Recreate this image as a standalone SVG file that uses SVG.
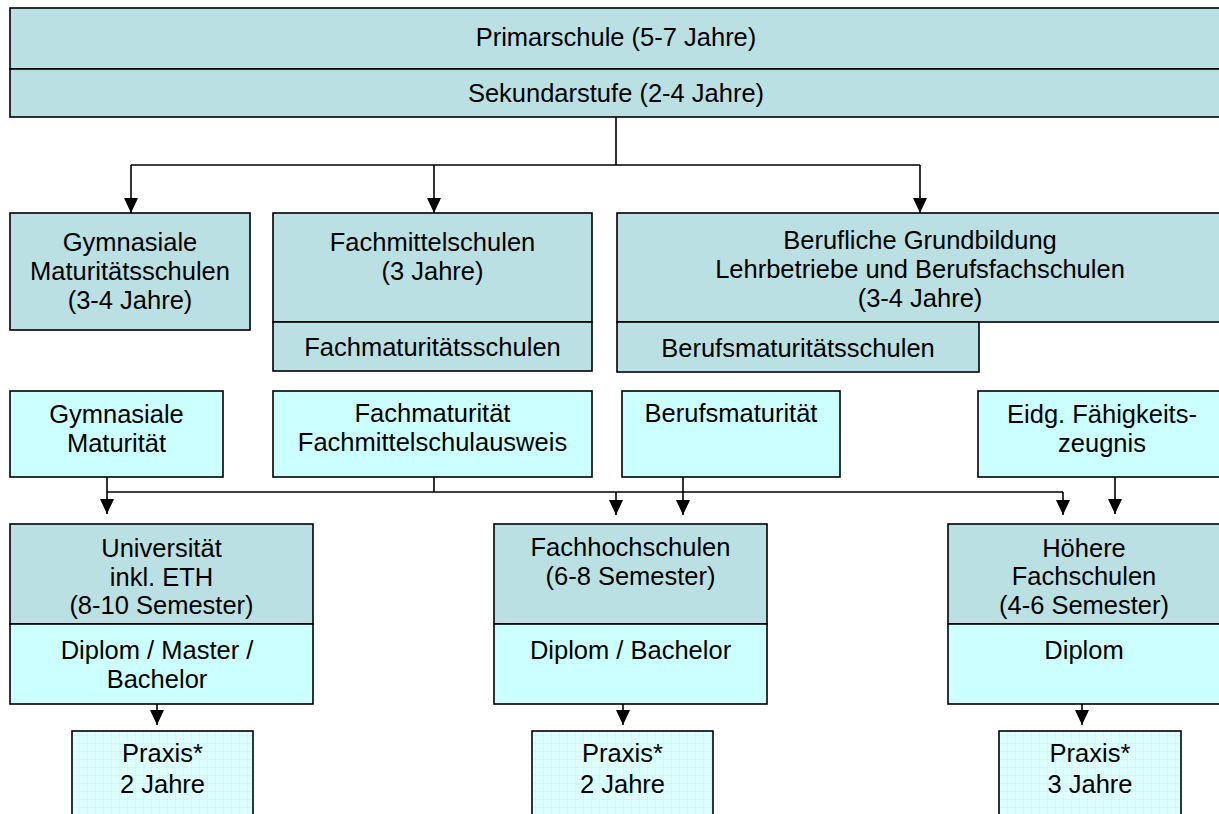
<svg xmlns="http://www.w3.org/2000/svg" width="1219" height="814" viewBox="0 0 1219 814">
<style>
.d{fill:#BBE0E3;stroke:#000;stroke-width:1.6}
.l{fill:#CCFFFF;stroke:#000;stroke-width:1.6}
.p{fill:url(#grid);stroke:#000;stroke-width:1.6}
text{font-family:"Liberation Sans",Arial,sans-serif;font-size:25.5px;fill:#000;text-anchor:middle}
.c{fill:none;stroke:#000;stroke-width:1.6}
</style>
<defs>
<pattern id="grid" width="8" height="8" patternUnits="userSpaceOnUse">
<rect width="8" height="8" fill="#DDFFFF"/>
<path d="M8 0V8M0 8H8" stroke="#C6EEEE" stroke-width="0.8" fill="none"/>
</pattern>
<marker id="ah" markerWidth="15" markerHeight="14" refX="15" refY="7" orient="auto" markerUnits="userSpaceOnUse" viewBox="0 0 15 14">
<path d="M0 0L15 7L0 14Z" fill="#000"/>
</marker>
</defs>
<rect width="1219" height="814" fill="#fff"/>

<g id="primarschule"><rect class="d" x="10" y="8" width="1215" height="61"/><text x="616" y="46">Primarschule (5-7 Jahre)</text></g>
<g id="sekundarstufe"><rect class="d" x="10" y="69" width="1215" height="48"/><text x="616" y="102">Sekundarstufe (2-4 Jahre)</text></g>

<g id="gym-schulen"><rect class="d" x="10" y="213" width="240" height="117"/><text x="130" y="251">Gymnasiale</text><text x="130" y="280">Maturitätsschulen</text><text x="130" y="309">(3-4 Jahre)</text></g>
<g id="fachmittelschulen"><rect class="d" x="273" y="213" width="319" height="109"/><text x="432.5" y="251">Fachmittelschulen</text><text x="432.5" y="280">(3 Jahre)</text></g>
<g id="fachmat-schulen"><rect class="d" x="273" y="322" width="319" height="49"/><text x="432.5" y="356">Fachmaturitätsschulen</text></g>
<g id="berufliche"><rect class="d" x="617" y="213" width="608" height="109"/><text x="920" y="249">Berufliche Grundbildung</text><text x="920" y="278">Lehrbetriebe und Berufsfachschulen</text><text x="920" y="307">(3-4 Jahre)</text></g>
<g id="berufsmat-schulen"><rect class="d" x="617" y="322" width="362" height="50"/><text x="798" y="357">Berufsmaturitätsschulen</text></g>

<g id="gym-maturitaet"><rect class="l" x="10" y="391" width="213" height="86"/><text x="116.5" y="423">Gymnasiale</text><text x="116.5" y="452">Maturität</text></g>
<g id="fachmaturitaet"><rect class="l" x="273" y="391" width="319" height="86"/><text x="432.5" y="422">Fachmaturität</text><text x="432.5" y="451">Fachmittelschulausweis</text></g>
<g id="berufsmaturitaet"><rect class="l" x="622" y="391" width="218" height="86"/><text x="731" y="422">Berufsmaturität</text></g>
<g id="eidg"><rect class="l" x="978" y="391" width="250" height="86"/><text x="1102" y="423">Eidg. Fähigkeits-</text><text x="1102" y="452">zeugnis</text></g>

<g id="universitaet"><rect class="d" x="10" y="524" width="303" height="100"/><text x="161.5" y="557">Universität</text><text x="161.5" y="586">inkl. ETH</text><text x="161.5" y="614">(8-10 Semester)</text></g>
<g id="uni-diplom"><rect class="l" x="10" y="624" width="303" height="80"/><text x="157" y="659">Diplom / Master /</text><text x="157" y="688">Bachelor</text></g>
<g id="fachhochschulen"><rect class="d" x="494" y="524" width="273" height="100"/><text x="630.5" y="556">Fachhochschulen</text><text x="630.5" y="585">(6-8 Semester)</text></g>
<g id="fh-diplom"><rect class="l" x="494" y="624" width="273" height="80"/><text x="630.5" y="659">Diplom / Bachelor</text></g>
<g id="hoehere"><rect class="d" x="948" y="524" width="280" height="100"/><text x="1084" y="557">Höhere</text><text x="1084" y="585">Fachschulen</text><text x="1084" y="614">(4-6 Semester)</text></g>
<g id="hf-diplom"><rect class="l" x="948" y="624" width="280" height="80"/><text x="1084" y="659">Diplom</text></g>

<g id="praxis-uni"><rect class="p" x="72" y="731" width="181" height="100"/><text x="162.5" y="762">Praxis*</text><text x="162.5" y="793">2 Jahre</text></g>
<g id="praxis-fh"><rect class="p" x="532" y="731" width="181" height="100"/><text x="622.5" y="762">Praxis*</text><text x="622.5" y="793">2 Jahre</text></g>
<g id="praxis-hf"><rect class="p" x="999" y="731" width="182" height="100"/><text x="1090" y="762">Praxis*</text><text x="1090" y="793">3 Jahre</text></g>

<g id="connectors">
<path class="c" d="M616 117V165M131 165H920"/>
<path class="c" d="M131 165V213" marker-end="url(#ah)"/>
<path class="c" d="M434 165V213" marker-end="url(#ah)"/>
<path class="c" d="M920 165V213" marker-end="url(#ah)"/>
<path class="c" d="M107 492H1063M434 477V492"/>
<path class="c" d="M107 477V514" marker-end="url(#ah)"/>
<path class="c" d="M616 492V515" marker-end="url(#ah)"/>
<path class="c" d="M683 477V515" marker-end="url(#ah)"/>
<path class="c" d="M1063 492V515" marker-end="url(#ah)"/>
<path class="c" d="M1115 477V514" marker-end="url(#ah)"/>
<path class="c" d="M157 704V725" marker-end="url(#ah)"/>
<path class="c" d="M623 704V725" marker-end="url(#ah)"/>
<path class="c" d="M1082 704V725" marker-end="url(#ah)"/>
</g>
</svg>
